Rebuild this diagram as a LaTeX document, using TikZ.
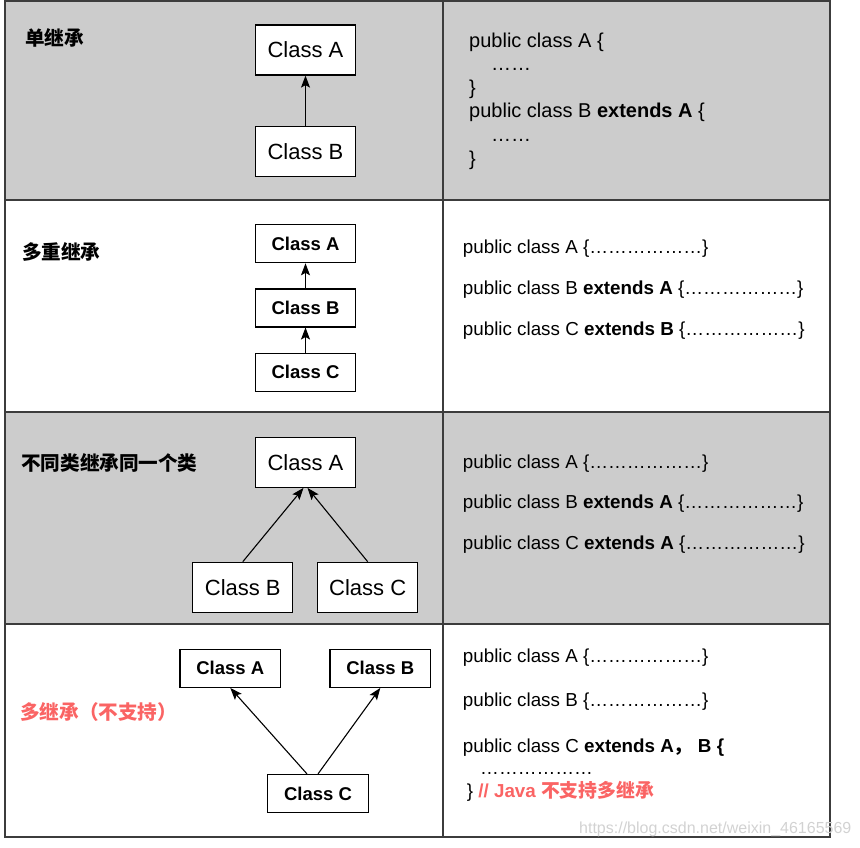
\documentclass[tikz,border=0pt]{standalone}
\usepackage{fontspec}
\setmainfont{Liberation Sans}
\newfontfamily\cjk{Noto Sans CJK SC}
\usetikzlibrary{arrows.meta,positioning}
\definecolor{cellgray}{RGB}{204,204,204}
\definecolor{linegray}{RGB}{60,60,60}
\definecolor{warnred}{RGB}{250,100,100}

\begin{document}
\begin{tikzpicture}[
  x=1pt, y=-1pt,
  node distance=25pt,
  every node/.style={inner sep=0pt},
  cls/.style={rectangle, draw=black, line width=1.2pt, fill=white, minimum width=100pt, minimum height=50pt, font=\fontsize{22}{26}\selectfont},
  clsb/.style={cls, minimum height=38pt, font=\fontsize{18.5}{22}\selectfont\bfseries},
  title/.style={anchor=west, font=\cjk\bfseries\fontsize{19.6}{22}\selectfont},
  code/.style={anchor=west, font=\fontsize{18.8}{22}\selectfont},
  grid/.style={linegray, line width=1.5pt},
  arrow/.style={-{Stealth[length=12pt,width=9pt,inset=2.5pt]}, line width=1.1pt}
]
\useasboundingbox (0,0) rectangle (860,847);

% --- TABLE ---
\fill[cellgray] (5,1) rectangle (830,200);
\fill[cellgray] (5,412) rectangle (830,624);
\draw[grid] (5,200) -- (830,200);
\draw[grid] (5,412) -- (830,412);
\draw[grid] (5,624) -- (830,624);
\draw[grid] (443,1) -- (443,837);
\draw[grid] (5,1) rectangle (830,837);

% --- ROW 1: SINGLE ---
\node[title] (t1) at (25,37.7) {单继承};
\node[cls] (r1a) at (305.5,50) {Class A};
\node[cls, below=50pt of r1a] (r1b) {Class B};
\draw[arrow] (r1b) -- (r1a);
\node[code, font=\fontsize{20}{23.6}\selectfont, align=left] (code1) at (469,101)
  {public class A \{\\\hspace*{22pt}……\\\}\\public class B \textbf{extends A} \{\\\hspace*{22pt}……\\\}};

% --- ROW 2: MULTILEVEL ---
\node[title] (t2) at (22,251.7) {多重继承};
\node[clsb] (r2a) at (305.5,243.7) {Class A};
\node[clsb, below=of r2a] (r2b) {Class B};
\node[clsb, below=of r2b] (r2c) {Class C};
\draw[arrow] (r2b) -- (r2a);
\draw[arrow] (r2c) -- (r2b);
\node[code] (c2a) at (462.7,249) {public class A \{………………\}};
\node[code] (c2b) at (462.7,290) {public class B \textbf{extends A} \{………………\}};
\node[code] (c2c) at (462.7,331) {public class C \textbf{extends B} \{………………\}};

% --- ROW 3: HIERARCHICAL ---
\node[title] (t3) at (21,463) {不同类继承同一个类};
\node[cls] (r3a) at (305.5,462.3) {Class A};
\node[cls] (r3b) at (242.8,587.3) {Class B};
\node[cls] (r3c) at (367.7,587.3) {Class C};
\draw[arrow] (r3b.north) -- ([xshift=-2pt]r3a.south);
\draw[arrow] (r3c.north) -- ([xshift=2pt]r3a.south);
\node[code] (c3a) at (462.7,463.3) {public class A \{………………\}};
\node[code] (c3b) at (462.7,504) {public class B \textbf{extends A} \{………………\}};
\node[code] (c3c) at (462.7,545) {public class C \textbf{extends A} \{………………\}};

% --- ROW 4: MULTIPLE (NOT SUPPORTED) ---
\node[title, text=warnred] (t4) at (20,711.7) {多继承（不支持）};
\node[clsb, minimum width=100.7pt] (r4a) at (230.3,668.3) {Class A};
\node[clsb, minimum width=100.7pt] (r4b) at (380.3,668.3) {Class B};
\node[clsb, minimum width=100.7pt] (r4c) at (318,793.5) {Class C};
\draw[arrow] ([xshift=-11pt]r4c.north) -- (r4a.south);
\draw[arrow] (r4c.north) -- (r4b.south);
\node[code] (c4a) at (462.7,657.7) {public class A \{………………\}};
\node[code] (c4b) at (462.7,701.7) {public class B \{………………\}};
\node[code] (c4c) at (462.7,747.3) {public class C \textbf{extends A{\cjk ，} B \{}};
\node[code] (c4d) at (480,773) {………………};
\node[code] (c4e) at (466.7,791.7) {\} \textcolor{warnred}{\bfseries // Java {\cjk 不支持多继承}}};

% --- WATERMARK ---
\node[anchor=west, text=gray!35, font=\fontsize{16}{18}\selectfont] (mark) at (579,829) {https://blog.csdn.net/weixin\_46165569};
\end{tikzpicture}
\end{document}
